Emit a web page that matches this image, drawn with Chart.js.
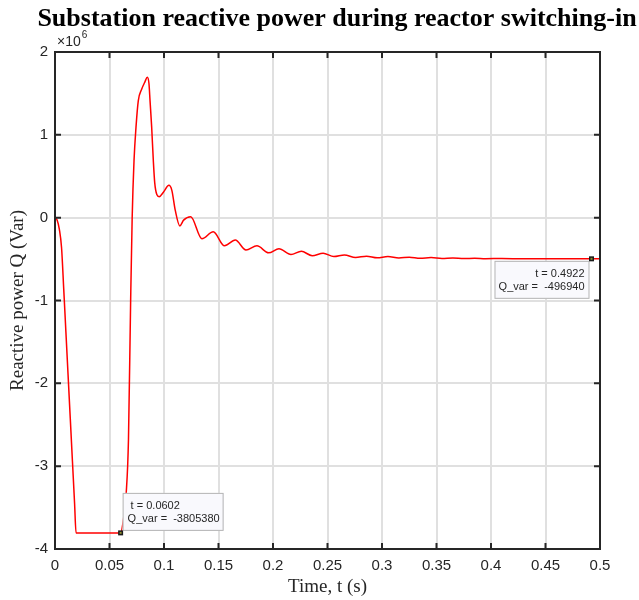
<!DOCTYPE html>
<html>
<head>
<meta charset="utf-8">
<script src="https://cdn.jsdelivr.net/npm/chart.js@4.4.1/dist/chart.umd.min.js"></script>
<style>
  html, body { margin: 0; padding: 0; background: #ffffff; }
  #chart { display: block; }
</style>
</head>
<body>
<canvas id="chart" width="639" height="600"></canvas>
<script>
  "use strict";

  // ====
  // Data
  // ====
  const CHART_TITLE = "Substation reactive power during reactor switching-in";
  const X_TITLE = "Time, t (s)";
  const Y_TITLE = "Reactive power Q (Var)";

  // time (s)
  const timeValues = [
    0, 0.002, 0.004, 0.006, 0.008, 0.010, 0.012, 0.014, 0.016, 0.018, 0.0193,
    0.03, 0.04, 0.05, 0.0602, 0.063, 0.0653, 0.0674, 0.0694, 0.0708, 0.0725,
    0.0743, 0.0764, 0.0795, 0.0825, 0.0847, 0.0862, 0.0872, 0.0887, 0.0902,
    0.0915, 0.0934, 0.0956, 0.0996, 0.1045, 0.1072, 0.1103, 0.1145, 0.118,
    0.1245, 0.1348, 0.1452, 0.1555, 0.1654, 0.1752, 0.1853, 0.196, 0.2055,
    0.2165, 0.226, 0.236, 0.246, 0.2558, 0.2655, 0.2757, 0.2858, 0.2956,
    0.3054, 0.3155, 0.325, 0.335, 0.345, 0.355, 0.365, 0.375, 0.385, 0.395,
    0.41, 0.43, 0.45, 0.47, 0.4922, 0.5,
  ];

  // reactive power Q (Var)
  const qValues = [
    0, -30000, -140000, -360000, -860000, -1380000, -1900000, -2420000,
    -2940000, -3460000, -3805380,
    -3805380, -3805380, -3805380, -3805380, -3620000, -3330000, -2680000,
    -1000000, 0, 690000,
    1090000, 1410000, 1550000, 1640000, 1695000, 1620000, 1410000, 1090000,
    690000,
    420000, 280000, 254000, 310000, 390000, 330000, 90000, -100000, -30000,
    10000, -255000, -170000, -340000, -270000, -390000, -340000, -425000,
    -375000,
    -445000, -405000, -460000, -430000, -470000, -450000, -480000, -465000,
    -485000,
    -470000, -487000, -477000, -490000, -482000, -492000, -486000, -494000,
    -489000, -495000,
    -493000, -496000, -495000, -497000, -496940, -497000,
  ];

  const X_MIN = 0;
  const X_MAX = 0.5;
  const X_STEP = 0.05;
  const Y_MIN = -4e6;
  const Y_MAX = 2e6;
  const Y_STEP = 1e6;
  const Y_EXPONENT = 6;

  // data tips shown on the plot
  const tipTimes = [0.0602, 0.4922];
  const tipValues = [-3805380, -496940];
  const tipLabels = [
    ["t = 0.0602", "Q_var =  -3805380"],
    ["t = 0.4922", "Q_var =  -496940"],
  ];

  // ======
  // Styles
  // ======
  const AXIS_COLOR = "#262626";
  const GRID_COLOR = "#e0e0e0";
  const LINE_COLOR = "#ff0000";
  const SANS = "'Liberation Sans', Arial, sans-serif";
  const SERIF = "'Liberation Serif', 'Times New Roman', serif";

  // ===============
  // Custom drawing
  // ===============
  const matlabFramePlugin = {
    id: "matlabFrame",
    afterDatasetsDraw(chart) {
      const { ctx, chartArea: a, scales } = chart;
      const tickLen = 6;
      ctx.save();
      ctx.strokeStyle = AXIS_COLOR;
      ctx.lineWidth = 2;
      ctx.beginPath();
      ctx.rect(a.left, a.top, a.right - a.left, a.bottom - a.top);
      ctx.stroke();

      ctx.beginPath();
      for (const tick of scales.x.ticks) {
        const px = scales.x.getPixelForValue(tick.value);
        ctx.moveTo(px, a.bottom);
        ctx.lineTo(px, a.bottom - tickLen);
        ctx.moveTo(px, a.top);
        ctx.lineTo(px, a.top + tickLen);
      }
      for (const tick of scales.y.ticks) {
        const py = scales.y.getPixelForValue(tick.value);
        ctx.moveTo(a.left, py);
        ctx.lineTo(a.left + tickLen, py);
        ctx.moveTo(a.right, py);
        ctx.lineTo(a.right - tickLen, py);
      }
      ctx.stroke();
      ctx.restore();
    },
    afterDraw(chart) {
      const { ctx, chartArea: a, scales } = chart;
      ctx.save();

      // title
      ctx.fillStyle = "#000000";
      ctx.font = "bold 26px " + SERIF;
      ctx.textAlign = "center";
      ctx.textBaseline = "alphabetic";
      ctx.fillText(CHART_TITLE, 337, 26);

      // axis titles
      ctx.fillStyle = AXIS_COLOR;
      ctx.font = "19px " + SERIF;
      ctx.textBaseline = "middle";
      ctx.fillText(X_TITLE, (a.left + a.right) / 2, 587);
      ctx.save();
      ctx.translate(18, (a.top + a.bottom) / 2);
      ctx.rotate(-Math.PI / 2);
      ctx.fillText(Y_TITLE, 0, 0);
      ctx.restore();

      // exponent label
      ctx.textAlign = "left";
      ctx.textBaseline = "alphabetic";
      ctx.font = "14px " + SANS;
      ctx.fillText("\u00d710", a.left + 2, a.top - 6);
      const w = ctx.measureText("\u00d710").width;
      ctx.font = "10px " + SANS;
      ctx.fillText(String(Y_EXPONENT), a.left + 2 + w + 1, a.top - 14);

      // data tips
      ctx.font = "11px " + SANS;
      tipTimes.forEach((t, i) => {
        const px = scales.x.getPixelForValue(t);
        const py = scales.y.getPixelForValue(tipValues[i]);
        const boxW = i === 0 ? 101 : 95;
        const boxH = 38;
        let bx, by;
        if (i === 0) {
          bx = px + 2;
          by = py - 2 - boxH;
        } else {
          bx = px - 2 - boxW;
          by = py + 2;
        }
        ctx.fillStyle = "#f9f9fd";
        ctx.fillRect(bx, by, boxW, boxH);
        ctx.strokeStyle = "#b4b4b4";
        ctx.lineWidth = 1;
        ctx.strokeRect(bx + 0.5, by + 0.5, boxW - 1, boxH - 1);

        ctx.fillStyle = "#262626";
        ctx.textBaseline = "middle";
        if (i === 0) {
          ctx.textAlign = "left";
          ctx.fillText(tipLabels[i][0], bx + 8, by + 13);
          ctx.fillText(tipLabels[i][1], bx + 5, by + 26);
        } else {
          ctx.textAlign = "right";
          ctx.fillText(tipLabels[i][0], bx + boxW - 5, by + 13);
          ctx.fillText(tipLabels[i][1], bx + boxW - 5, by + 26);
        }

        ctx.fillStyle = "#1a1a1a";
        ctx.fillRect(px - 2.5, py - 2.5, 5, 5);
        ctx.fillStyle = "#8a8a30";
        ctx.fillRect(px - 1, py - 1, 2, 2);
      });

      ctx.restore();
    },
  };

  // ===============
  // Chart creation
  // ===============
  const points = timeValues.map((t, i) => ({ x: t, y: qValues[i] }));

  const fmtX = (v) => String(Number(v.toFixed(2)));
  const fmtY = (v) => String(Math.round(v / Math.pow(10, Y_EXPONENT)));

  new Chart(document.getElementById("chart"), {
    type: "line",
    data: {
      datasets: [
        {
          label: "Q",
          data: points,
          borderColor: LINE_COLOR,
          borderWidth: 1.5,
          pointRadius: 0,
          fill: false,
          cubicInterpolationMode: "monotone",
        },
      ],
    },
    options: {
      responsive: false,
      animation: false,
      devicePixelRatio: 1,
      layout: { padding: { top: 52, right: 39, left: 0, bottom: 0 } },
      plugins: {
        legend: { display: false },
        title: { display: false },
        tooltip: { enabled: false },
      },
      scales: {
        x: {
          type: "linear",
          min: X_MIN,
          max: X_MAX,
          ticks: {
            stepSize: X_STEP,
            color: AXIS_COLOR,
            font: { family: SANS, size: 15 },
            padding: 8,
            maxRotation: 0,
            autoSkip: false,
            callback: fmtX,
          },
          grid: { color: GRID_COLOR, lineWidth: 2, drawTicks: false },
          border: { display: false },
          afterFit(scale) {
            scale.height = 51;
          },
        },
        y: {
          type: "linear",
          min: Y_MIN,
          max: Y_MAX,
          ticks: {
            stepSize: Y_STEP,
            color: AXIS_COLOR,
            font: { family: SANS, size: 15 },
            padding: 7,
            autoSkip: false,
            callback: fmtY,
          },
          grid: { color: GRID_COLOR, lineWidth: 2, drawTicks: false },
          border: { display: false },
          afterFit(scale) {
            scale.width = 55;
          },
        },
      },
    },
    plugins: [matlabFramePlugin],
  });
</script>
</body>
</html>
